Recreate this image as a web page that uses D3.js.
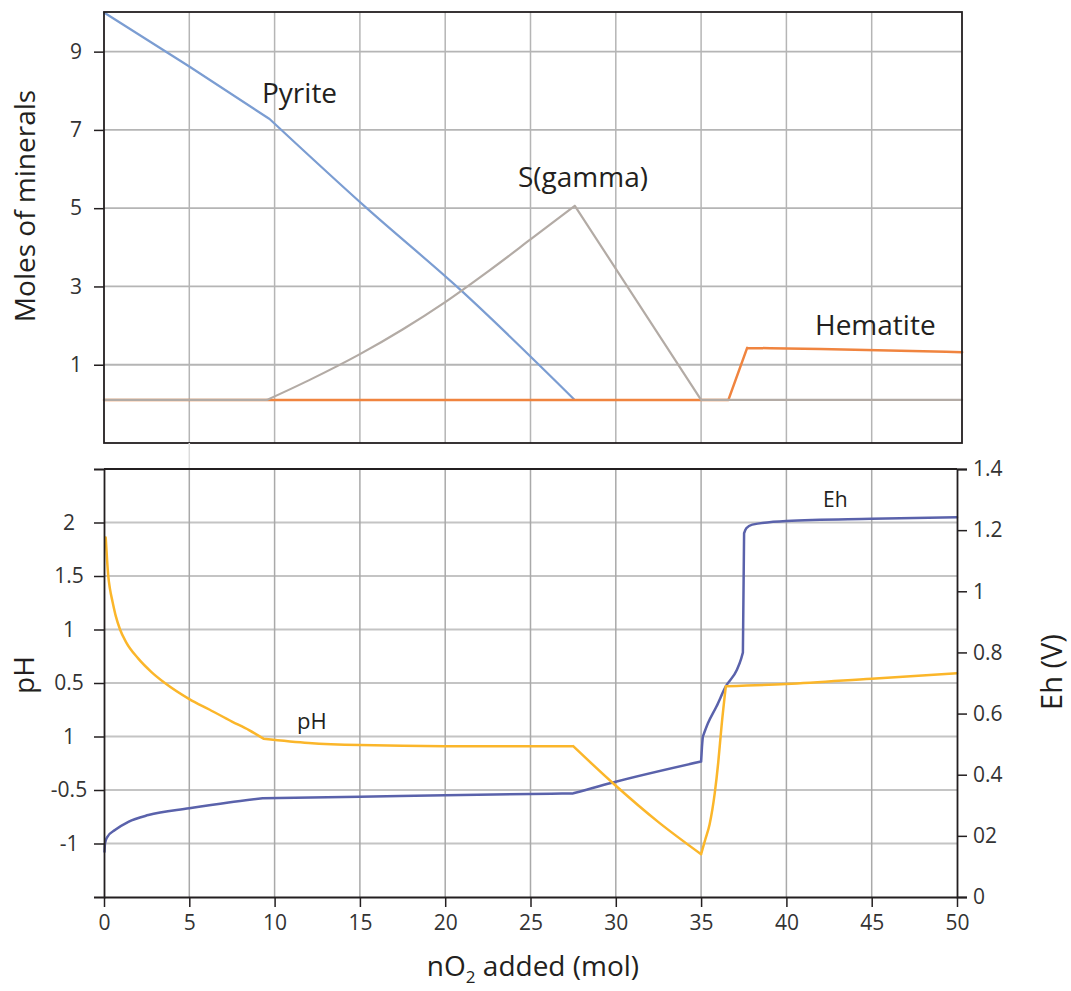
<!DOCTYPE html>
<html>
<head>
<meta charset="utf-8">
<script src="https://cdn.jsdelivr.net/npm/d3@7"></script>
<style>
  html, body { margin: 0; padding: 0; background: #fff; }
  svg { display: block; font-family: "Open Sans", "Noto Sans", sans-serif; }
</style>
</head>
<body>
<svg id="chart" width="1071" height="991"></svg>
<script>
// ---------------- data ----------------
const xTicks = [0, 5, 10, 15, 20, 25, 30, 35, 40, 45, 50];
const xGrid = [5, 10, 15, 20, 25, 30, 35, 40, 45];
const mineralTicks = [1, 3, 5, 7, 9];
const pHTicks = [2, 1.5, 1, 0.5, 0, -0.5, -1];
const pHTickLabels = ["2", "1.5", "1", "0.5", "1", "-0.5", "-1"];
const ehTicks = [0, 0.2, 0.4, 0.6, 0.8, 1.0, 1.2, 1.4];
const ehTickLabels = ["0", "02", "0.4", "0.6", "0.8", "1", "1.2", "1.4"];

// moles of minerals vs nO2 added
const pyrite = [[0, 10], [5, 8.62], [9.7, 7.28], [15.4, 5.0], [20.8, 2.95], [27.55, 0.12]];
const pyriteBreaks = [9.7];
const sGamma = [[0, 0.1], [9.55, 0.1], [12, 0.6], [15, 1.27], [17.5, 1.9], [20, 2.6], [22.5, 3.38], [25, 4.2],
                [27.6, 5.06], [35.0, 0.1], [50.3, 0.1]];
const sGammaBreaks = [9.55, 27.6, 35.0];
const hematite = [[0, 0.1], [36.6, 0.1], [37.7, 1.43], [42, 1.4], [50.3, 1.32]];
const hematiteBreaks = [36.6, 37.7];

// pH and Eh vs nO2 added
const pH = [[0.1, 1.86], [0.18, 1.65], [0.25, 1.5], [0.35, 1.38], [0.5, 1.26], [0.7, 1.12], [0.94, 1.0], [1.3, 0.88],
            [2, 0.73], [2.8, 0.6], [3.57, 0.5], [5, 0.35], [6.2, 0.25], [7.5, 0.14], [8.5, 0.06], [9.35, -0.02],
            [12, -0.06], [15, -0.08], [20, -0.09], [27.5, -0.09], [30, -0.46], [32.5, -0.8], [35, -1.1],
            [35.25, -0.96], [35.5, -0.82], [35.8, -0.53], [36.0, -0.25], [36.2, 0.1], [36.45, 0.47],
            [40, 0.49], [45, 0.54], [50, 0.59]];
const pHBreaks = [9.35, 27.5, 35, 36.45];
const eh = [[0.03, 0.148], [0.06, 0.176], [0.2, 0.197], [0.64, 0.219], [1.43, 0.246], [2.6, 0.268], [5, 0.29],
            [7.3, 0.309], [9.3, 0.323], [15, 0.328], [20, 0.333], [25, 0.337], [27.5, 0.339], [30, 0.377],
            [35, 0.443], [35.05, 0.49], [35.1, 0.524], [35.4, 0.568], [35.9, 0.623], [36.44, 0.688], [37.1, 0.743],
            [37.35, 0.78], [37.45, 0.8], [37.52, 1.19], [37.65, 1.206], [38.0, 1.218], [40, 1.23], [45, 1.237], [50, 1.242]];
const ehBreaks = [9.3, 27.5, 35, 35.1, 37.45, 37.52];

// ---------------- layout ----------------
const svg = d3.select("#chart");
const x = d3.scaleLinear().domain([0, 50]).range([104, 957]);
const yM = d3.scaleLinear().domain([-1, 10]).range([443, 12.5]);
const yPH = d3.scaleLinear().domain([-1.5, 2.5]).range([897, 469]);
const yEh = d3.scaleLinear().domain([0, 1.4]).range([897, 469]);

const topBox = { left: 104, right: 962, top: 12, bottom: 443 };
const textColor = "#231f20";

// split a series at break x-values, draw each piece with a smooth monotone curve
function piecewisePath(data, breaks, yScale) {
  const gen = d3.line().x(d => x(d[0])).y(d => yScale(d[1])).curve(d3.curveMonotoneX);
  const pieces = [];
  let cur = [];
  data.forEach(d => {
    cur.push(d);
    if (breaks.includes(d[0])) { pieces.push(cur); cur = [d]; }
  });
  if (cur.length > 1) pieces.push(cur);
  return pieces.map(p => gen(p)).join("");
}

// ---------- top panel ----------
const gTop = svg.append("g");
svg.append("line").attr("x1", x(5)).attr("x2", x(5)).attr("y1", 443).attr("y2", 469)
  .attr("stroke", "#dcdcdc").attr("stroke-width", 1.5);

gTop.selectAll("line.vg").data(xGrid).join("line")
  .attr("x1", d => x(d)).attr("x2", d => x(d))
  .attr("y1", topBox.top).attr("y2", topBox.bottom)
  .attr("stroke", "#b5b5b5").attr("stroke-width", 1.5);
gTop.selectAll("line.hg").data(mineralTicks).join("line")
  .attr("x1", topBox.left).attr("x2", topBox.right)
  .attr("y1", d => yM(d)).attr("y2", d => yM(d))
  .attr("stroke", "#b5b5b5").attr("stroke-width", 1.8);

gTop.append("path").attr("d", piecewisePath(pyrite, pyriteBreaks, yM))
  .attr("fill", "none").attr("stroke", "#7b9dd2").attr("stroke-width", 2.2).attr("stroke-linecap", "round");
gTop.append("path").attr("d", piecewisePath(hematite, hematiteBreaks, yM))
  .attr("fill", "none").attr("stroke", "#f0843f").attr("stroke-width", 2.5).attr("stroke-linecap", "round");
gTop.append("path").attr("d", piecewisePath(sGamma, sGammaBreaks, yM))
  .attr("fill", "none").attr("stroke", "#b3aba5").attr("stroke-width", 2.2).attr("stroke-linecap", "round");

gTop.append("rect")
  .attr("x", topBox.left).attr("y", topBox.top)
  .attr("width", topBox.right - topBox.left).attr("height", topBox.bottom - topBox.top)
  .attr("fill", "none").attr("stroke", "#231f20").attr("stroke-width", 1.8);

const axM = gTop.append("g").attr("transform", `translate(${topBox.left},0)`)
  .call(d3.axisLeft(yM).tickValues(mineralTicks).tickSize(10).tickSizeOuter(0).tickFormat(d3.format("d")));
axM.select(".domain").remove();
axM.selectAll(".tick line").attr("stroke", "#231f20").attr("stroke-width", 1.5);
axM.selectAll(".tick text").attr("text-anchor", "middle").attr("x", -28)
  .attr("font-size", 21).attr("fill", "#333").attr("font-family", "Open Sans");

gTop.append("text").attr("transform", "translate(35,206) rotate(-90)")
  .attr("text-anchor", "middle").attr("font-size", 28).attr("fill", textColor)
  .text("Moles of minerals");

gTop.append("text").attr("x", 262).attr("y", 103).attr("font-size", 28).attr("fill", textColor).text("Pyrite");
gTop.append("text").attr("x", 518).attr("y", 187).attr("font-size", 28).attr("fill", textColor).text("S(gamma)");
gTop.append("text").attr("x", 815).attr("y", 335).attr("font-size", 28).attr("fill", textColor).text("Hematite");

// ---------- bottom panel ----------
const gBot = svg.append("g");
gBot.selectAll("line.hg").data(pHTicks).join("line")
  .attr("x1", x(0)).attr("x2", x(50))
  .attr("y1", d => yPH(d)).attr("y2", d => yPH(d))
  .attr("stroke", "#c4c4c4").attr("stroke-width", 2);
gBot.selectAll("line.vg").data(xGrid).join("line")
  .attr("x1", d => x(d)).attr("x2", d => x(d))
  .attr("y1", yPH(2.5)).attr("y2", yPH(-1.5))
  .attr("stroke", "#a9a9a9").attr("stroke-width", 1.5);

gBot.append("line").attr("x1", x(0)).attr("x2", x(50))
  .attr("y1", yPH(2.5)).attr("y2", yPH(2.5))
  .attr("stroke", "#231f20").attr("stroke-width", 1.8);

gBot.append("path").attr("d", piecewisePath(eh, ehBreaks, yEh))
  .attr("fill", "none").attr("stroke", "#5a62ab").attr("stroke-width", 2.5).attr("stroke-linecap", "round");
gBot.append("path").attr("d", piecewisePath(pH, pHBreaks, yPH))
  .attr("fill", "none").attr("stroke", "#fbb62a").attr("stroke-width", 2.5).attr("stroke-linecap", "round");

const axPH = gBot.append("g").attr("transform", `translate(${x(0)},0)`)
  .call(d3.axisLeft(yPH).tickValues(pHTicks).tickSize(10).tickSizeOuter(10)
    .tickFormat((d, i) => pHTickLabels[i]));
axPH.select(".domain").attr("stroke", "#231f20").attr("stroke-width", 1.8);
axPH.selectAll(".tick line").attr("stroke", "#231f20").attr("stroke-width", 1.5);
axPH.selectAll(".tick text").attr("text-anchor", "middle").attr("x", -35)
  .attr("font-size", 21).attr("fill", "#333").attr("font-family", "Open Sans");

const axEh = gBot.append("g").attr("transform", `translate(${x(50)},0)`)
  .call(d3.axisRight(yEh).tickValues(ehTicks).tickSize(10).tickSizeOuter(10).tickPadding(6)
    .tickFormat((d, i) => ehTickLabels[i]));
axEh.select(".domain").attr("stroke", "#231f20").attr("stroke-width", 1.8);
axEh.selectAll(".tick line").attr("stroke", "#231f20").attr("stroke-width", 1.5);
axEh.selectAll(".tick text").attr("font-size", 21).attr("fill", "#333").attr("font-family", "Open Sans");

const axX = gBot.append("g").attr("transform", `translate(0,${yPH(-1.5)})`)
  .call(d3.axisBottom(x).tickValues(xTicks).tickSize(10).tickSizeOuter(0).tickPadding(8).tickFormat(d3.format("d")));
axX.select(".domain").attr("stroke", "#231f20").attr("stroke-width", 2.2);
axX.selectAll(".tick line").attr("stroke", "#231f20").attr("stroke-width", 1.5);
axX.selectAll(".tick text").attr("font-size", 21).attr("fill", "#333").attr("font-family", "Open Sans");

gBot.append("text").attr("transform", "translate(34,675) rotate(-90)")
  .attr("text-anchor", "middle").attr("font-size", 28).attr("fill", textColor).text("pH");
gBot.append("text").attr("transform", "translate(1062,672) rotate(-90)")
  .attr("text-anchor", "middle").attr("font-size", 29).attr("fill", textColor).text("Eh (V)");

gBot.append("text").attr("x", 297).attr("y", 729).attr("font-size", 22).attr("fill", textColor).text("pH");
gBot.append("text").attr("x", 823).attr("y", 507).attr("font-size", 21).attr("fill", textColor).text("Eh");

const title = gBot.append("text").attr("x", 533).attr("y", 976).attr("text-anchor", "middle")
  .attr("font-size", 28).attr("fill", textColor);
title.append("tspan").text("nO");
title.append("tspan").attr("font-size", 17).attr("dy", 7).text("2");
title.append("tspan").attr("dy", -7).text(" added (mol)");
</script>
</body>
</html>
